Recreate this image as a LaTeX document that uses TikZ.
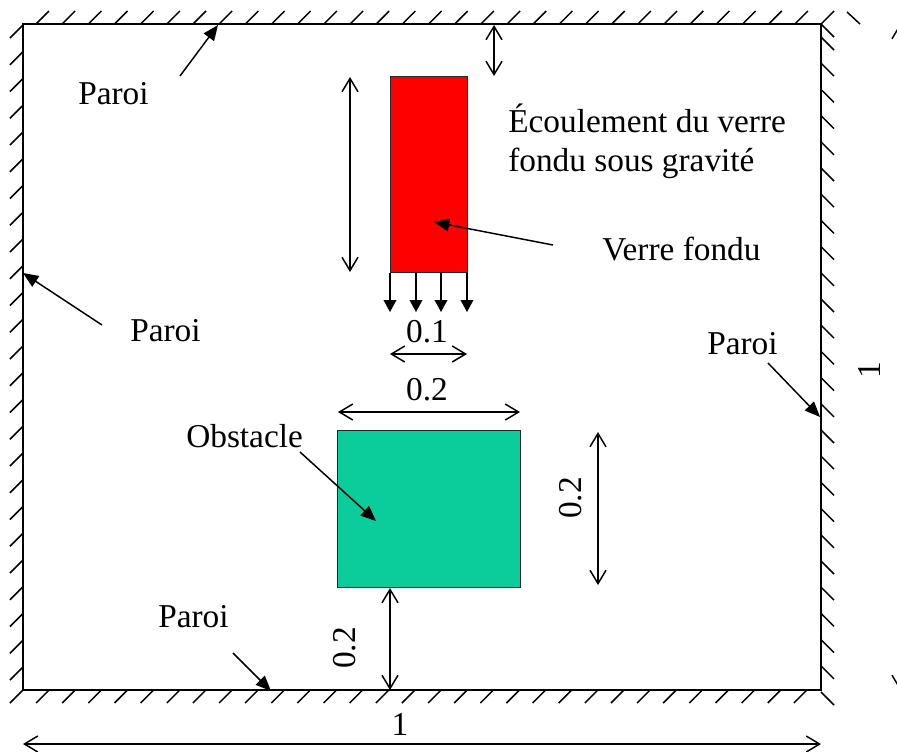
\documentclass[tikz,border=0pt]{standalone}
\usepackage{fontspec}
\setmainfont{Liberation Serif}
\usetikzlibrary{arrows.meta}
\definecolor{verre}{RGB}{255,0,0}
\definecolor{obst}{RGB}{11,204,155}
\tikzset{
  every node/.style={font=\fontsize{25}{29}\selectfont, inner sep=0pt},
  wall/.style={line width=1.9pt},
  hatch/.style={line width=1.1pt},
  dim/.style={line width=1.1pt, {Straight Barb[length=10pt,width=12pt]}-{Straight Barb[length=10pt,width=12pt]}},
  ptr/.style={line width=1.1pt, -{Triangle[length=11.5pt,width=9.5pt]}},
  flow/.style={line width=1.1pt, -{Triangle[length=9pt,width=9.5pt]}},
  blk/.style={draw=black!85, line width=1.1pt},
}
\begin{document}
\begin{tikzpicture}[x=0.75pt,y=-0.75pt]
\useasboundingbox (0,0) rectangle (897,751);
% walls
\coordinate (TL) at (23,24);
\coordinate (TR) at (821,24);
\coordinate (BR) at (821,690);
\coordinate (BL) at (23,690);
\draw[wall] (TL) -- (TR) -- (BR) -- (BL) -- cycle;
% hatches
\foreach \k in {0,...,30} { \draw[hatch] ({36+26.17*\k},24) -- ++(13,-13); }
\foreach \k in {0,...,24} { \draw[hatch] (23,{25+26.75*\k}) -- ++(-13,13); }
\foreach \k in {0,...,25} { \draw[hatch] (821,{37+26.2*\k}) -- ++(13,13); }
\draw[hatch] (821,24) -- ++(13,13);
\foreach \k in {0,...,30} { \draw[hatch] ({23+26.13*\k},690) -- ++(-13,13); }
\draw[hatch] (847,12) -- (860,24);
% molten glass
\node[blk, fill=verre, minimum width=77*0.75pt, minimum height=196*0.75pt, anchor=north west] (red) at (390,76) {};
\foreach \xx [count=\i] in {390,416,441,467} {
  \coordinate (fs\i) at (\xx,273);
  \coordinate (fe\i) at (\xx,312);
  \draw[flow] (fs\i) -- (fe\i);
}
% obstacle
\node[blk, fill=obst, minimum width=183*0.75pt, minimum height=157*0.75pt, anchor=north west] (obs) at (337,430) {};
% dimension lines
\coordinate (d1a) at (350,77); \coordinate (d1b) at (350,272);
\draw[dim] (d1a) -- (d1b);
\coordinate (d2a) at (494,25); \coordinate (d2b) at (494,76);
\draw[dim] (d2a) -- (d2b);
\coordinate (d3a) at (390,354); \coordinate (d3b) at (467,354);
\draw[dim] (d3a) -- (d3b);
\coordinate (d4a) at (338,412); \coordinate (d4b) at (520,412);
\draw[dim] (d4a) -- (d4b);
\coordinate (d5a) at (598,432); \coordinate (d5b) at (598,585);
\draw[dim] (d5a) -- (d5b);
\coordinate (d6a) at (390,588); \coordinate (d6b) at (390,690);
\draw[dim] (d6a) -- (d6b);
\coordinate (d7a) at (23,744); \coordinate (d7b) at (821,744);
\draw[dim] (d7a) -- (d7b);
\coordinate (d8a) at (900,24); \coordinate (d8b) at (900,690);
\draw[dim] (d8a) -- (d8b);
% labels
\node[anchor=base west] (pTop) at (78,104) {Paroi};
\node[anchor=base west] (ecA) at (508,132) {Écoulement du verre};
\node[anchor=base west] (ecB) at (508,171) {fondu sous gravité};
\node[anchor=base west] (vf) at (602,260) {Verre fondu};
\node[anchor=base west] (pLeft) at (130,341) {Paroi};
\node[anchor=base west] (pRight) at (707,354) {Paroi};
\node[anchor=base] (l01) at (427,342) {0.1};
\node[anchor=base] (l02a) at (427,400) {0.2};
\node[anchor=base west] (obsl) at (186,447) {Obstacle};
\node[rotate=90] (l02b) at (571,498) {0.2};
\node[rotate=90] (l02c) at (345,648) {0.2};
\node[anchor=base west] (pBot) at (158,627) {Paroi};
\node[anchor=base] (l1a) at (400,735) {1};
\node[rotate=90] (l1b) at (869,370) {1};
% pointer arrows
\coordinate (a1s) at (180,76); \coordinate (a1e) at (218,25);
\draw[ptr] (a1s) -- (a1e);
\coordinate (a2s) at (553,245); \coordinate (a2e) at (434,222);
\draw[ptr] (a2s) -- (a2e);
\coordinate (a3s) at (102,325); \coordinate (a3e) at (23,273);
\draw[ptr] (a3s) -- (a3e);
\coordinate (a4s) at (768,363); \coordinate (a4e) at (820,417);
\draw[ptr] (a4s) -- (a4e);
\coordinate (a5s) at (300,452); \coordinate (a5e) at (376,521);
\draw[ptr] (a5s) -- (a5e);
\coordinate (a6s) at (233,653); \coordinate (a6e) at (271,691);
\draw[ptr] (a6s) -- (a6e);
\end{tikzpicture}
\end{document}
